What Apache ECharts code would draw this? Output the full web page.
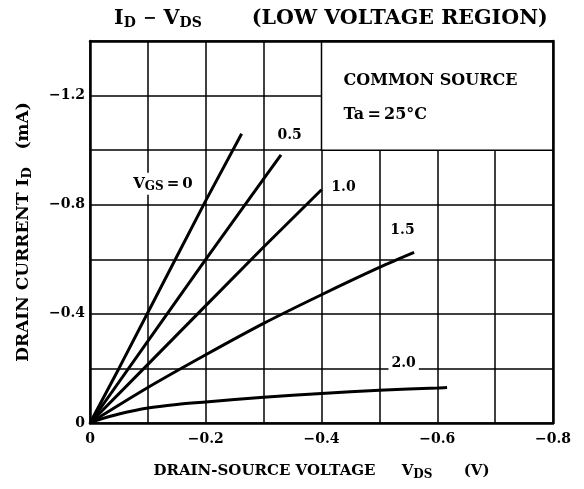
<!DOCTYPE html>
<html>
<head>
<meta charset="utf-8">
<script src="https://cdn.jsdelivr.net/npm/echarts@6/dist/echarts.min.js"></script>
<style>
  html, body { margin: 0; padding: 0; background: #fff; }
  #chart { width: 584px; height: 489px; }
</style>
</head>
<body>
<div id="chart"></div>
<script>
// curves, VDS (V) / ID (mA), one per gate voltage
const vgsNames = ['0', '0.5', '1.0', '1.5', '2.0']
const curve00 = [[0, 0], [-0.05, -0.2], [-0.1, -0.405], [-0.15, -0.61], [-0.2, -0.815], [-0.262, -1.06]]
const curve05 = [[0, 0], [-0.1, -0.3], [-0.2, -0.6], [-0.3, -0.895], [-0.33, -0.983]]
const curve10 = [[0, 0], [-0.1, -0.215], [-0.2, -0.43], [-0.3, -0.645], [-0.4, -0.855]]
const curve15 = [[0, 0], [-0.1, -0.13], [-0.2, -0.25], [-0.3, -0.365], [-0.4, -0.47], [-0.5, -0.57], [-0.56, -0.625]]
const curve20 = [[0, 0], [-0.02, -0.015], [-0.05, -0.033], [-0.1, -0.055], [-0.15, -0.068], [-0.2, -0.077], [-0.3, -0.094], [-0.4, -0.108], [-0.5, -0.12], [-0.6, -0.128], [-0.617, -0.13]]
const curves = [curve00, curve05, curve10, curve15, curve20]
const smoothing = [false, false, false, 0.3, 0.3]

// axis ranges / ticks
const xMin = -0.8, xMax = 0, xStep = 0.1
const yMin = -1.4, yMax = 0, yStep = 0.2

// text inside the plot
const noteLines = ['COMMON SOURCE', 'Ta\u2009=\u200925\u00b0C']

// where texts sit (data coords)
const labelPos = [[-0.126, -0.877], [-0.345, -1.053], [-0.438, -0.862], [-0.54, -0.705], [-0.542, -0.22]]
const notePos = [[-0.438, -1.255], [-0.438, -1.13]]

const FONT = 'DejaVu Serif'
const fmt = (v, every) => {
  let n = Math.round(Math.abs(v) / 0.1)
  if (n % every !== 0) return ''
  if (n === 0) return '0'
  return '\u2212' + (n / 10).toFixed(1)
}
const txt = (size, extra) => Object.assign({ fontFamily: FONT, fontSize: size, fontWeight: 'bold', color: '#000' }, extra)

let mycharts = echarts.init(document.getElementById('chart'))

const lineSeries = curves.map((c, i) => ({
  type: 'line',
  name: vgsNames[i],
  data: c,
  symbol: 'none',
  smooth: smoothing[i],
  lineStyle: { color: '#000', width: 3 },
  z: 3,
}))

mycharts.setOption({
  animation: false,
  backgroundColor: '#fff',
  title: {
    text: '{a|I}{s|D}{a| }{m|\u2212}{a| V}{s|DS}{p|(LOW VOLTAGE REGION)}',
    left: 109,
    top: 0,
    textStyle: {
      rich: {
        a: txt(20.6, { lineHeight: 28 }),
        m: txt(16, { lineHeight: 28 }),
        s: txt(14, { lineHeight: 28, padding: [9, 0, 0, 0] }),
        p: txt(20.6, { lineHeight: 28, padding: [0, 0, 0, 50] }),
      },
    },
  },
  grid: { left: 90, right: 31, top: 41, bottom: 66 },
  xAxis: [
    {
      type: 'value', min: xMin, max: xMax, interval: xStep, inverse: true,
      position: 'bottom',
      name: '{a|DRAIN-SOURCE VOLTAGE     V}{s|DS}{a|      (V)}',
      nameLocation: 'middle',
      nameGap: 38,
      nameTextStyle: {
        rich: {
          a: txt(15, { lineHeight: 20 }),
          s: txt(12, { lineHeight: 20, padding: [7, 0, 0, 0] }),
        },
      },
      axisLine: { show: true, onZero: false, lineStyle: { color: '#000', width: 2.5 } },
      axisTick: { show: false },
      splitLine: { show: true, lineStyle: { color: '#000', width: 1.5 } },
      axisLabel: Object.assign({ formatter: v => fmt(v, 2), margin: 9 }, txt(14)),
    },
    {
      type: 'value', min: xMin, max: xMax, inverse: true, position: 'top', z: 10,
      axisLine: { show: true, onZero: false, lineStyle: { color: '#000', width: 2.5 } },
      axisTick: { show: false }, axisLabel: { show: false }, splitLine: { show: false },
    },
  ],
  yAxis: [
    {
      type: 'value', min: yMin, max: yMax, interval: yStep, inverse: true,
      position: 'left',
      name: '{a|DRAIN CURRENT I}{s|D}{a|   (mA)}',
      nameLocation: 'middle',
      nameRotate: 90,
      nameGap: 54,
      nameTextStyle: {
        rich: {
          a: txt(17, { lineHeight: 24 }),
          s: txt(13, { lineHeight: 24, padding: [8, 0, 0, 0] }),
        },
      },
      axisLine: { show: true, onZero: false, lineStyle: { color: '#000', width: 2.5 } },
      axisTick: { show: false },
      splitLine: { show: true, lineStyle: { color: '#000', width: 1.5 } },
      axisLabel: Object.assign({ formatter: v => fmt(v, 4), margin: 5 }, txt(14)),
    },
    {
      type: 'value', min: yMin, max: yMax, inverse: true, position: 'right', z: 10,
      axisLine: { show: true, onZero: false, lineStyle: { color: '#000', width: 2.5 } },
      axisTick: { show: false }, axisLabel: { show: false }, splitLine: { show: false },
    },
  ],
  series: [
    ...lineSeries,
    // white "COMMON SOURCE" box over the grid
    {
      type: 'line',
      data: [],
      z: 2,
      markArea: {
        silent: true,
        itemStyle: { color: '#fff', borderColor: '#000', borderWidth: 1.5 },
        label: { show: false },
        data: [[{ coord: [-0.4, -1.0] }, { coord: [-0.8, -1.4] }]],
      },
    },
    // box text
    {
      type: 'scatter',
      symbolSize: 0,
      z: 4,
      itemStyle: { opacity: 1 },
      data: notePos.map((p, i) => ({ value: p, name: noteLines[i] })),
      label: Object.assign({ show: true, position: 'right', distance: 0, formatter: '{b}' }, txt(16)),
    },
    // curve labels
    {
      type: 'scatter',
      symbolSize: 0,
      z: 4,
      itemStyle: { opacity: 1 },
      data: labelPos.map((p, i) => ({ value: p, name: vgsNames[i] })),
      label: {
        show: true,
        position: 'inside',
        backgroundColor: '#fff',
        padding: [1, 3],
        formatter: p => (p.dataIndex === 0 ? '{b|V}{s|GS}{b|\u2009=\u20090}' : '{a|' + p.name + '}'),
        rich: {
          a: txt(14, { lineHeight: 20 }),
          b: txt(15, { lineHeight: 20 }),
          s: txt(12, { lineHeight: 20, padding: [7, 0, 0, 0] }),
        },
      },
    },
  ],
})
</script>
</body>
</html>
